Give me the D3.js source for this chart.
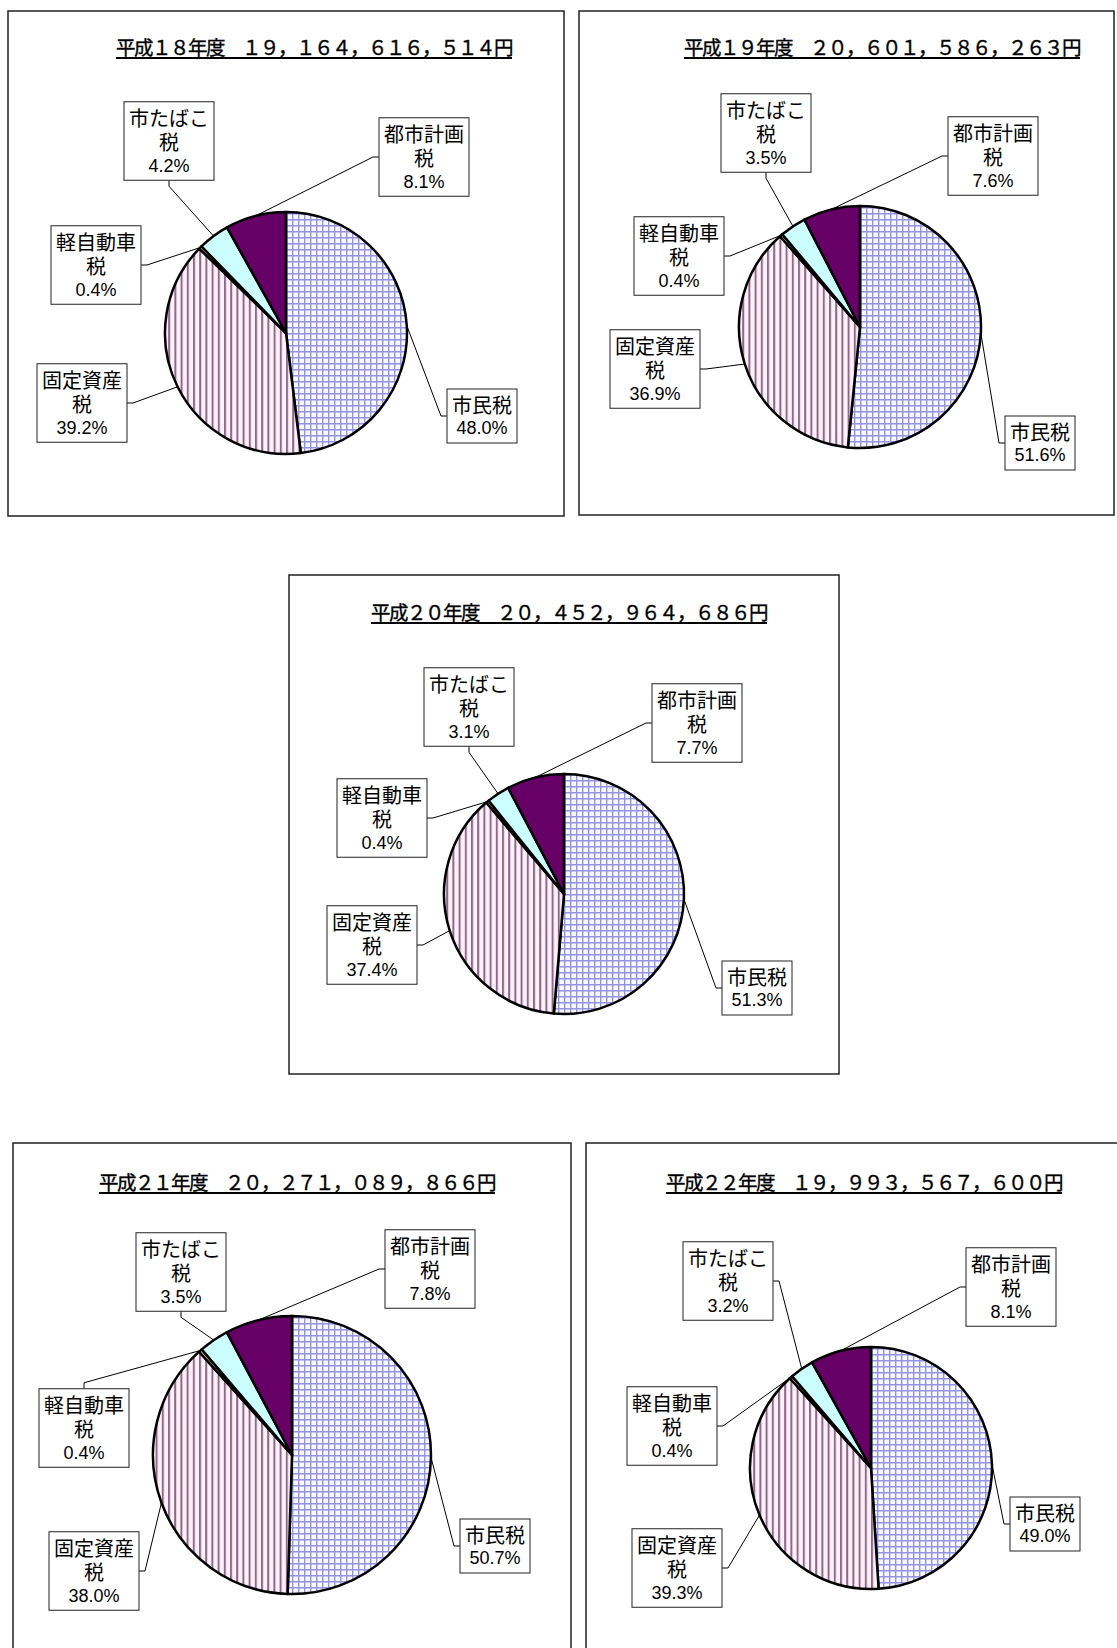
<!DOCTYPE html>
<html>
<head>
<meta charset="utf-8">
<script src="https://cdn.jsdelivr.net/npm/d3@7"></script>
<style>
  body { margin: 0; background: #fff; }
  svg { display: block; }
</style>
</head>
<body>
<div id="chart"></div>
<script>
// data
const categories = ['市民税', '固定資産税', '軽自動車税', '市たばこ税', '都市計画税'];
const yearLabels = ['平成18年度', '平成19年度', '平成20年度', '平成21年度', '平成22年度'];
const totals = [19164616514, 20601586263, 20452964686, 20271089866, 19993567600];
const shareH18 = [48.0, 39.2, 0.4, 4.2, 8.1];
const shareH19 = [51.6, 36.9, 0.4, 3.5, 7.6];
const shareH20 = [51.3, 37.4, 0.4, 3.1, 7.7];
const shareH21 = [50.7, 38.0, 0.4, 3.5, 7.8];
const shareH22 = [49.0, 39.3, 0.4, 3.2, 8.1];
const shares = [shareH18, shareH19, shareH20, shareH21, shareH22];

// layout: frame, title, pie and label box centres (+ side the leader attaches to)
const panels = [
    { x0: 8, y0: 11, x1: 564, y1: 516, tx: 314, ty: 55, cx: 286, cy: 333, r: 121,
      labels: [[482, 416, 'l'], [82, 403, 'r'], [96, 265, 'r'], [169, 141, 'b'], [424, 157, 'l']] },
    { x0: 579, y0: 11, x1: 1114, y1: 515, tx: 882, ty: 55, cx: 860, cy: 327, r: 121,
      labels: [[1040, 443, 'l'], [655, 369, 'r'], [679, 256, 'r'], [766, 133, 'b'], [993, 156, 'l']] },
    { x0: 289, y0: 575, x1: 839, y1: 1074, tx: 569, ty: 620, cx: 564, cy: 894, r: 120,
      labels: [[757, 988, 'l'], [372, 945, 'r'], [382, 818, 'r'], [469, 707, 'b'], [697, 723, 'l']] },
    { x0: 13, y0: 1143, x1: 571, y1: 1700, tx: 297, ty: 1190, cx: 292, cy: 1455, r: 139,
      labels: [[495, 1546, 'l'], [94, 1571, 'r'], [84, 1428, 't'], [181, 1272, 'b'], [430, 1269, 'l']] },
    { x0: 586, y0: 1143, x1: 1140, y1: 1700, tx: 864, ty: 1190, cx: 871, cy: 1468, r: 121,
      labels: [[1045, 1524, 'l'], [677, 1568, 'r'], [672, 1426, 'r'], [728, 1281, 'r'], [1011, 1287, 'l']] }
];

const width = 1117, height = 1648;
const jpFont = '"Noto Sans CJK JP", "Noto Sans", sans-serif';
const numFont = '"Liberation Sans", Arial, sans-serif';

const svg = d3.select('#chart')
    .append('svg')
    .attr('width', width)
    .attr('height', height);

// fill patterns
const defs = svg.append('defs');
const grid = defs.append('pattern')
    .attr('id', 'grid')
    .attr('patternUnits', 'userSpaceOnUse')
    .attr('width', 6).attr('height', 6);
grid.append('rect').attr('width', 6).attr('height', 6).attr('fill', '#f7f7ff');
grid.append('path')
    .attr('d', 'M0,0.7H6M0.7,0V6')
    .attr('stroke', '#9494e0')
    .attr('stroke-width', 1.4);

const stripe = defs.append('pattern')
    .attr('id', 'stripe')
    .attr('patternUnits', 'userSpaceOnUse')
    .attr('width', 6.2).attr('height', 6);
stripe.append('rect').attr('width', 6.2).attr('height', 6).attr('fill', '#fff0fb');
stripe.append('rect').attr('x', 0).attr('width', 2).attr('height', 6).attr('fill', '#8c6a86');

const fills = ['url(#grid)', 'url(#stripe)', '#ffffcc', '#ccffff', '#660066'];

const toFull = s => s.replace(/[0-9,]/g, c => String.fromCharCode(c.charCodeAt(0) + 0xFEE0));
const fmtTotal = d3.format(',');
const fmtPct = d3.format('.1f');

const pie = d3.pie().sort(null).value(d => d);
const lineH = 24.5;

panels.forEach((p, i) => {
    const g = svg.append('g');

    // frame
    g.append('rect')
        .attr('x', p.x0).attr('y', p.y0)
        .attr('width', p.x1 - p.x0).attr('height', p.y1 - p.y0)
        .attr('fill', '#fff')
        .attr('stroke', '#222')
        .attr('stroke-width', 1.5);

    // title with underline
    const title = g.append('text')
        .attr('x', p.tx).attr('y', p.ty)
        .attr('text-anchor', 'middle')
        .style('font-family', jpFont)
        .style('font-size', '19.5px')
        .style('letter-spacing', '-1.5px')
        .attr('stroke', '#000')
        .attr('stroke-width', 0.35)
        .text(toFull(yearLabels[i]) + '\u3000' + toFull(fmtTotal(totals[i])) + '円');
    const tb = title.node().getBBox();
    g.append('line')
        .attr('x1', tb.x).attr('x2', tb.x + tb.width)
        .attr('y1', p.ty + 3).attr('y2', p.ty + 3)
        .attr('stroke', '#000')
        .attr('stroke-width', 1.8);

    const arcs = pie(shares[i]);
    const arc = d3.arc().innerRadius(0).outerRadius(p.r);

    const leaders = g.append('g');
    const slices = g.append('g').attr('transform', `translate(${p.cx},${p.cy})`);
    const labels = g.append('g');

    slices.selectAll('path')
        .data(arcs)
        .enter()
        .append('path')
        .attr('d', arc)
        .attr('fill', (d, k) => fills[k])
        .attr('stroke', '#000')
        .attr('stroke-width', 2.5)
        .attr('stroke-linejoin', 'round');

    arcs.forEach((a, k) => {
        const name = categories[k];
        const lines = name.length > 3 ? [name.slice(0, 4), name.slice(4)] : [name];
        const [lx, ly, side] = p.labels[k];
        const n = lines.length + 1;
        const h = n * lineH + 5;
        const top = ly - h / 2;

        const lg = labels.append('g');
        const box = lg.append('rect');
        const text = lg.append('text')
            .attr('text-anchor', 'middle')
            .attr('dominant-baseline', 'central');
        const spans = [];
        lines.forEach((t, j) => {
            spans.push(text.append('tspan')
                .attr('x', lx)
                .attr('y', top + 2.5 + lineH * (j + 0.5))
                .style('font-family', jpFont)
                .style('font-size', '20px')
                .text(t));
        });
        spans.push(text.append('tspan')
            .attr('x', lx)
            .attr('y', top + 2.5 + lineH * (n - 0.5))
            .style('font-family', numFont)
            .style('font-size', '18px')
            .text(fmtPct(shares[i][k]) + '%'));
        const tw = d3.max(spans, t => t.node().getComputedTextLength());
        const w = tw + 10;
        box.attr('x', lx - w / 2).attr('y', top)
            .attr('width', w).attr('height', h)
            .attr('fill', '#fff')
            .attr('stroke', '#222')
            .attr('stroke-width', 1);

        // leader: rim point at mid angle -> stub -> box edge
        const mid = (a.startAngle + a.endAngle) / 2;
        const ax = p.cx + p.r * Math.sin(mid);
        const ay = p.cy - p.r * Math.cos(mid);
        let bx, by, sx, sy;
        if (side === 'l') { bx = lx - w / 2; by = ly; sx = bx - 6; sy = by; }
        else if (side === 'r') { bx = lx + w / 2; by = ly; sx = bx + 6; sy = by; }
        else if (side === 't') { bx = lx; by = top; sx = bx; sy = by - 6; }
        else { bx = lx; by = top + h; sx = bx; sy = by + 6; }
        leaders.append('path')
            .attr('d', `M${ax},${ay}L${sx},${sy}L${bx},${by}`)
            .attr('fill', 'none')
            .attr('stroke', '#000')
            .attr('stroke-width', 1);
    });
});
</script>
</body>
</html>
